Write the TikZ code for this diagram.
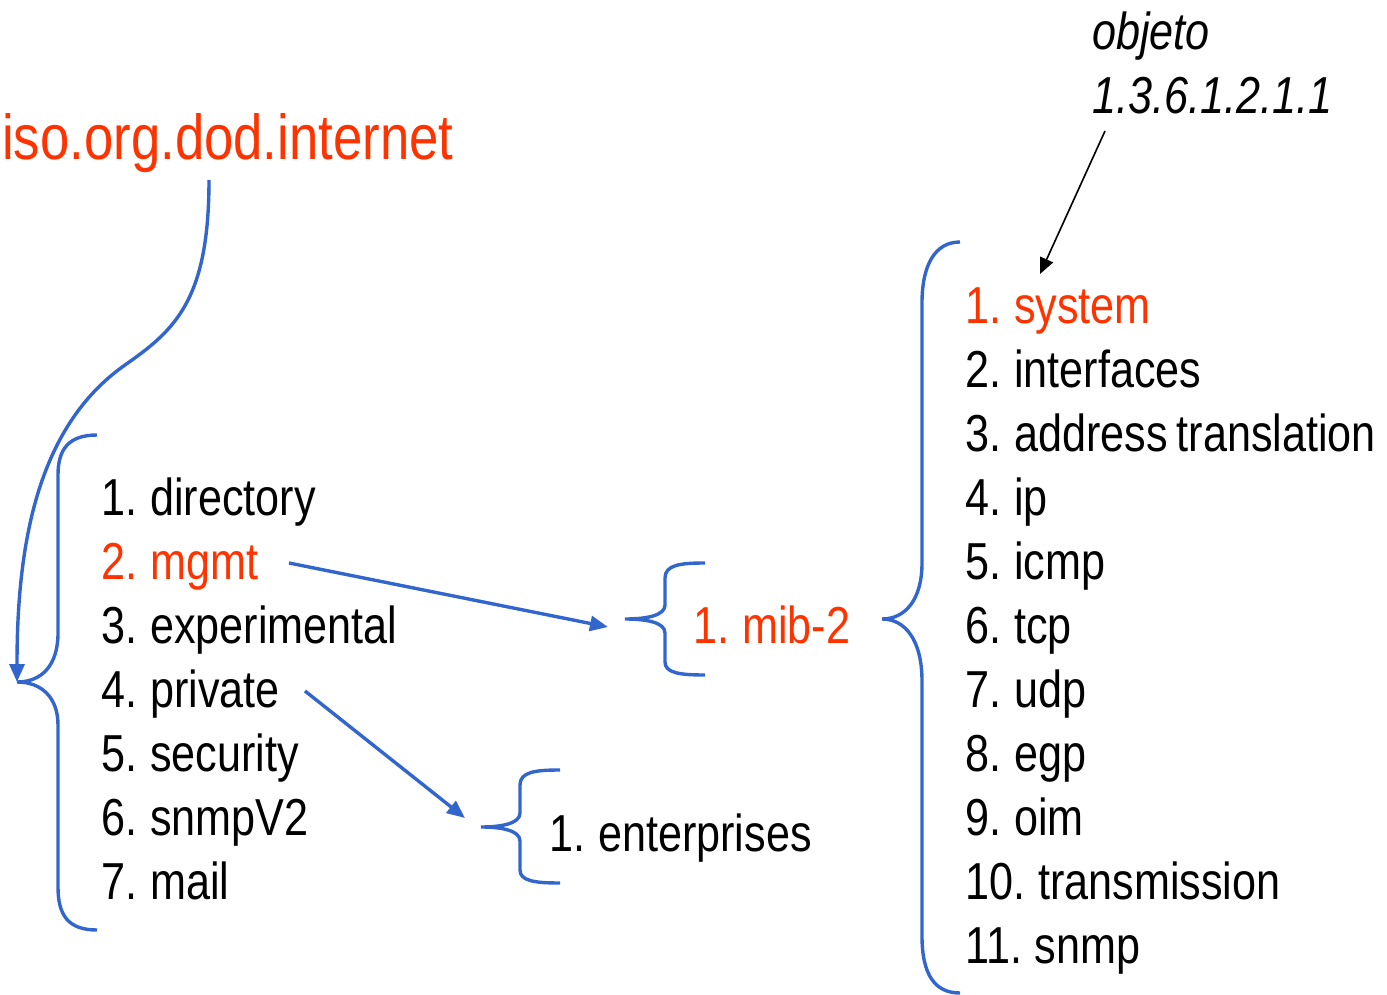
\documentclass[tikz,border=0pt]{standalone}
\usepackage{fontspec}
\setmainfont{Liberation Sans}[FakeStretch=0.83,WordSpace=0.75]
\usetikzlibrary{arrows.meta}
\definecolor{bracecol}{RGB}{51,102,204}
\definecolor{hilite}{RGB}{255,51,0}
\tikzset{
  item/.style={anchor=base west,inner sep=0pt,font=\fontsize{52}{60}\selectfont},
  hot/.style={item,text=hilite},
  bracepath/.style={draw=bracecol,line width=3.4pt},
  bluearrow/.style={draw=bracecol,line width=3.4pt,-{Triangle[length=18pt,width=15pt]}},
  blackarrow/.style={draw=black,line width=1.6pt,-{Triangle[length=16pt,width=14pt]}}
}
\begin{document}
\begin{tikzpicture}[x=1pt,y=-1pt]
\useasboundingbox (0,0) rectangle (1387,995);
% title
\node[hot,font=\fontsize{63.5}{72}\selectfont] (root) at (2,160) {iso.org.dod.internet};
\coordinate (rootfoot) at (209,180);
% left column
\node[item] (l1) at (101,515) {1. directory};
\node[hot] (l2) at (101,579) {2. mgmt};
\node[item] (l3) at (101,643) {3. experimental};
\node[item] (l4) at (101,707) {4. private};
\node[item] (l5) at (101,771) {5. security};
\node[item] (l6) at (101,835) {6. snmpV2};
\node[item] (l7) at (101,899) {7. mail};
% mid
\node[hot] (mib) at (693,643) {1. mib-2};
\node[item] (ent) at (549,851) {1. enterprises};
% right column
\node[hot] (r1) at (965,323) {1. system};
\node[item] (r2) at (965,387) {2. interfaces};
\node[item] (r3) at (965,451) {3. address translation};
\node[item] (r4) at (965,515) {4. ip};
\node[item] (r5) at (965,579) {5. icmp};
\node[item] (r6) at (965,643) {6. tcp};
\node[item] (r7) at (965,707) {7. udp};
\node[item] (r8) at (965,771) {8. egp};
\node[item] (r9) at (965,835) {9. oim};
\node[item] (r10) at (965,899) {10. transmission};
\node[item] (r11) at (965,963) {11. snmp};
% object label
\node[item,font=\fontsize{52}{58}\selectfont\itshape] (obj1) at (1092,50) {objeto};
\node[item,font=\fontsize{52}{58}\selectfont\itshape] (obj2) at (1092,114) {1.3.6.1.2.1.1};
% brace tips
\coordinate (ltip) at (17,682);
\coordinate (mtip) at (625,619);
\coordinate (etip) at (481,827);
\coordinate (rtip) at (882,619);
% braces
\draw[bracepath] (97,435) .. controls (68,435) and (58,450) .. (58,475) -- (58,633)
  .. controls (58,665) and (42,682) .. (ltip)
  .. controls (42,682) and (58,698) .. (58,725) -- (58,887)
  .. controls (58,915) and (68,930) .. (97,930);
\draw[bracepath] (705,563) .. controls (680,563) and (665,565) .. (665,578) -- (665,605)
  .. controls (665,616) and (645,619) .. (mtip)
  .. controls (645,619) and (665,622) .. (665,633) -- (665,662)
  .. controls (665,673) and (680,675) .. (705,675);
\draw[bracepath] (560,770) .. controls (535,770) and (520,772) .. (520,785) -- (520,813)
  .. controls (520,824) and (500,827) .. (etip)
  .. controls (500,827) and (520,830) .. (520,841) -- (520,870)
  .. controls (520,881) and (535,883) .. (560,883);
\draw[bracepath] (960,242) .. controls (935,242) and (922,265) .. (922,303) -- (922,563)
  .. controls (922,600) and (905,619) .. (rtip)
  .. controls (905,619) and (922,640) .. (922,681) -- (922,936)
  .. controls (922,975) and (935,993) .. (960,993);
% connectors
\draw[bluearrow] (rootfoot) .. controls (209,300) and (175,330) .. (125,365)
  .. controls (35,428) and (17,550) .. (ltip);
\draw[bluearrow] (289,563) coordinate (mgmtout) -- (608,627) coordinate (mibin);
\draw[bluearrow] (305,691) coordinate (privout) -- (465,818) coordinate (entin);
\draw[blackarrow] (1105,131) coordinate (objout) -- (1040,274) coordinate (sysin);
\end{tikzpicture}
\end{document}
